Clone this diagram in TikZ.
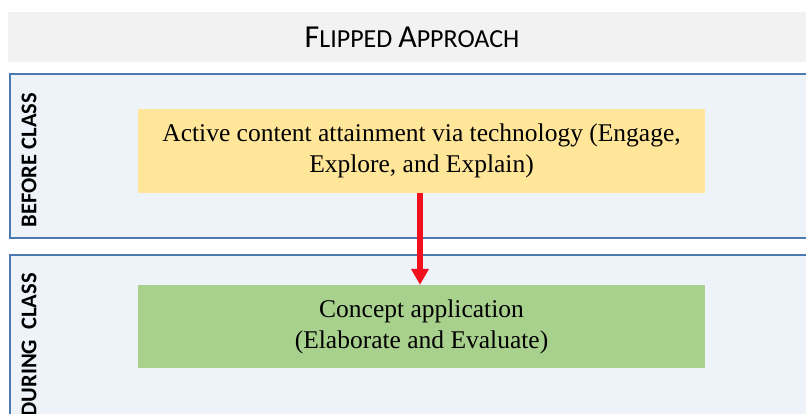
\documentclass[tikz,border=0pt]{standalone}
\usepackage{fontspec}
\setmainfont{Liberation Serif}
\newfontfamily\calibri{Carlito}
\usetikzlibrary{arrows.meta}

\definecolor{bandgray}{HTML}{F2F2F2}
\definecolor{lanefill}{HTML}{EEF3FA}
\definecolor{laneedge}{HTML}{4A7AB0}
\definecolor{stepyellow}{HTML}{FFE699}
\definecolor{stepgreen}{HTML}{A9D18E}
\definecolor{flowred}{HTML}{F0101E}

\tikzset{
  lane/.style={draw=laneedge, fill=lanefill, line width=1.6pt},
  lanelabel/.style={rotate=90, font=\calibri\bfseries\fontsize{22.5}{26}\selectfont, inner sep=0pt},
  stepbox/.style={minimum width=567pt, align=center, inner sep=0pt,
    font=\fontsize{25.5}{31}\selectfont},
  flow/.style={draw=flowred, line width=5.5pt,
    -{Triangle[length=16pt, width=17pt]}}
}

\begin{document}
\begin{tikzpicture}[x=1pt, y=-1pt]
  \useasboundingbox (0,0) rectangle (806,413);
  \clip (0,0) rectangle (806,413);

  % title band
  \fill[bandgray] (8,12) rectangle (830,62);
  \node (title) at (412,37) {\calibri\fontsize{32}{36}\selectfont F\fontsize{26}{30}\selectfont LIPPED
    \fontsize{32}{36}\selectfont A\fontsize{26}{30}\selectfont PPROACH};

  % swimlanes
  \draw[lane] (10,74) rectangle (830,238);
  \draw[lane] (10,255) rectangle (830,440);
  \node[lanelabel] (before) at (29,160) {BEFORE CLASS};
  \node[lanelabel, anchor=east] (during) at (29,273) {DURING~~CLASS};

  % activity boxes
  \node[stepbox, fill=stepyellow, minimum height=84pt] (online) at (421.5,151)
    {Active content attainment via technology (Engage,\\Explore, and Explain)};
  \node[stepbox, fill=stepgreen, minimum height=83pt] (inclass) at (421.5,326.5)
    {Concept application\\(Elaborate and Evaluate)};

  \draw[flow] (online.south -| 420,0) -- (inclass.north -| 420,0);
\end{tikzpicture}
\end{document}
